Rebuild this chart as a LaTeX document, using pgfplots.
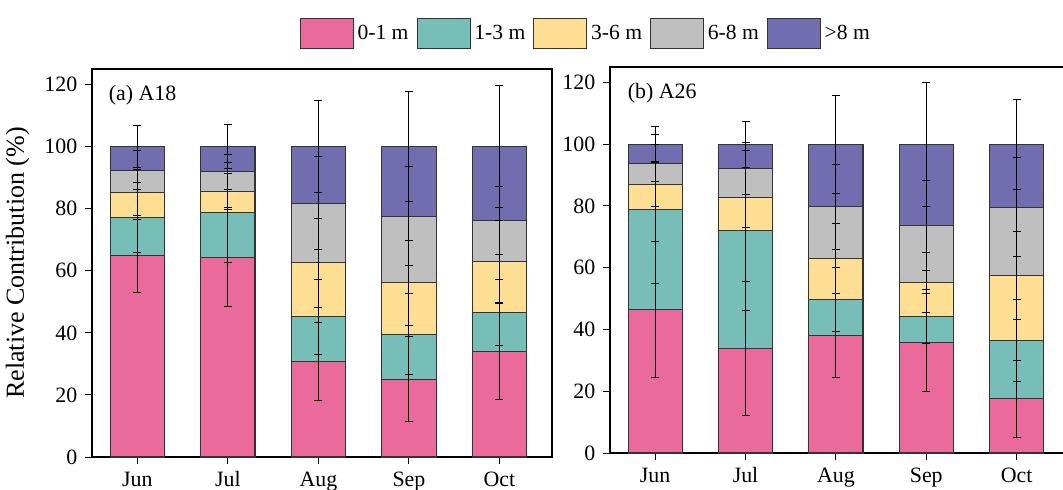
\documentclass[border=0pt,11pt]{standalone}
\usepackage{fontspec}
\setmainfont{Liberation Serif}
\usepackage{pgfplots}
\usepackage{pgfplotstable}
\pgfplotsset{compat=1.18}

\definecolor{c1}{HTML}{E96A9B}
\definecolor{c2}{HTML}{76BEB7}
\definecolor{c3}{HTML}{FDDE92}
\definecolor{c4}{HTML}{BFBFBF}
\definecolor{c5}{HTML}{716DAE}

% c1..c5: top of each layer (cumulative), e1..e5: its error bar
\pgfplotstableread{
x c1   c2   c3   c4   c5  e1   e2   e3   e4   e5
0 64.8 77.1 85.3 92.4 100 11.8 11.3 7.4  6.2  6.8
1 64.4 78.9 85.5 91.9 100 16.0 16.1 5.7  5.6  7.0
2 30.8 45.2 62.6 81.7 100 12.5 12.1 14.3 15.0 14.7
3 25.1 39.6 56.1 77.6 100 13.8 13.1 13.6 16.0 17.7
4 33.9 46.6 62.9 76.1 100 15.5 10.7 13.2 11.0 19.6
}\tblA
\pgfplotstableread{
x c1   c2   c3   c4   c5  e1   e2   e3   e4   e5
0 46.6 78.9 86.9 93.8 100 22.0 24.1 7.2  6.0  5.7
1 33.7 72.1 82.7 92.0 100 21.7 26.0 9.6  8.4  7.5
2 38.1 49.7 62.9 79.7 100 13.5 10.5 11.4 13.7 15.9
3 35.7 44.2 55.2 73.7 100 15.8 8.6  9.8  14.7 20.1
4 17.6 36.4 57.5 79.6 100 12.5 13.2 14.3 16.1 14.6
}\tblB

\pgfplotsset{
  panel/.style={
    scale only axis,
    xmin=-0.5, xmax=4.58, ymin=0, ymax=125,
    xtick={0,...,4}, xticklabels={Jun,Jul,Aug,Sep,Oct},
    ytick={0,20,...,120},
    tick align=outside, tick pos=left, major tick length=3.5pt,
    tick style={black, line width=0.5pt},
    axis line style={line width=0.6pt},
    /pgf/number format/assume math mode=true,
  },
  seg/.style={ybar, bar width=0.6, bar shift=0pt, fill=#1, draw=black!80, line width=0.55pt},
  err/.style={draw=none, mark=none,
    error bars/.cd, y dir=both, y explicit, error mark=-,
    error bar style={draw=black, solid, line width=0.5pt},
    error mark options={draw=black, rotate=90, line width=0.5pt, mark size=2pt}},
}

\begin{document}
\begin{tikzpicture}
\useasboundingbox (-46pt,-16pt) rectangle (485.5pt,228.5pt);

\begin{axis}[panel, width=230pt, height=194pt, at={(0pt,0pt)}, anchor=south west,
  ylabel={Relative Contribution (\%)},
  ylabel style={font=\fontsize{13}{15}\selectfont},
  legend image code/.code={\draw[#1] (0pt,-7.5pt) rectangle (26.5pt,7.5pt);},
  legend style={at={(1.0757,1.091)}, anchor=center, draw=none, fill=none,
    legend columns=5, font=\fontsize{10.8}{12}\selectfont,
    /tikz/every even column/.append style={column sep=2pt}},
]
\addlegendimage{fill=c1, draw=black!80}\addlegendentry{0-1 m}
\addlegendimage{fill=c2, draw=black!80}\addlegendentry{1-3 m}
\addlegendimage{fill=c3, draw=black!80}\addlegendentry{3-6 m}
\addlegendimage{fill=c4, draw=black!80}\addlegendentry{6-8 m}
\addlegendimage{fill=c5, draw=black!80}\addlegendentry{>8 m}
\pgfplotsinvokeforeach{5,4,3,2,1}{\addplot[seg=c#1] table[x=x, y=c#1] {\tblA};}
\pgfplotsinvokeforeach{1,...,5}{\addplot[err] table[x=x, y=c#1, y error=e#1] {\tblA};}
\node[anchor=west] at (rel axis cs:0.02,0.933) {(a) A18};
\end{axis}

\begin{axis}[panel, width=229.5pt, height=193pt, at={(259pt,2pt)}, anchor=south west]
\pgfplotsinvokeforeach{5,4,3,2,1}{\addplot[seg=c#1] table[x=x, y=c#1] {\tblB};}
\pgfplotsinvokeforeach{1,...,5}{\addplot[err] table[x=x, y=c#1, y error=e#1] {\tblB};}
\node[anchor=west] at (rel axis cs:0.022,0.933) {(b) A26};
\end{axis}
\end{tikzpicture}
\end{document}
